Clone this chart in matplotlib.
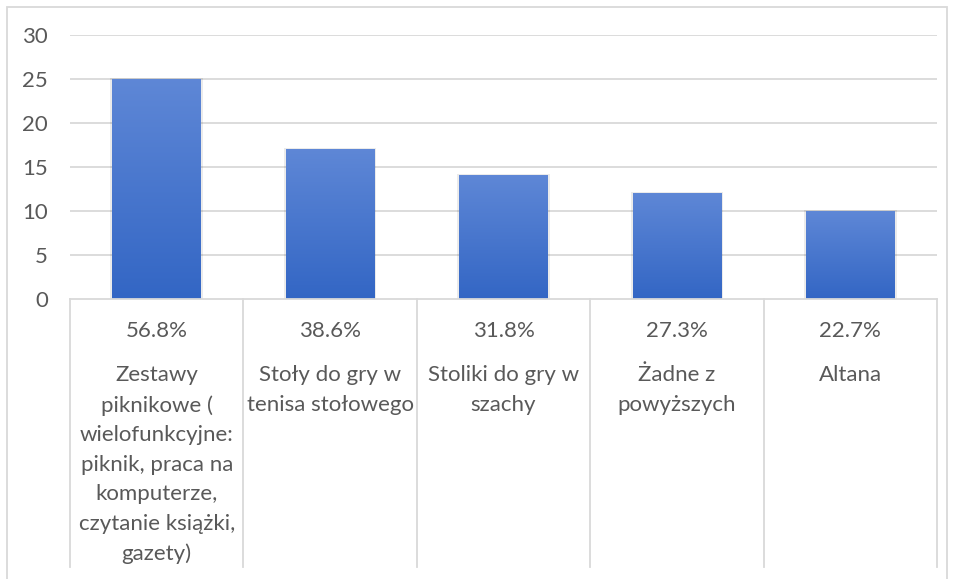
import numpy as np
import matplotlib
matplotlib.use("Agg")
import matplotlib.pyplot as plt
from matplotlib.patches import Rectangle
import matplotlib.transforms as mtransforms

# data
categories = [
    "Zestawy\npiknikowe (\nwielofunkcyjne:\npiknik, praca na\nkomputerze,\nczytanie książki,\ngazety)",
    "Stoły do gry w\ntenisa stołowego",
    "Stoliki do gry w\nszachy",
    "Żadne z\npowyższych",
    "Altana",
]
percent_labels = ["56.8%", "38.6%", "31.8%", "27.3%", "22.7%"]
counts = [25, 17, 14, 12, 10]
y_ticks = [0, 5, 10, 15, 20, 25, 30]

plt.rcParams['font.family'] = ['Lato', 'DejaVu Sans']
TEXT = '#595959'
GRID = '#D9D9D9'
FS = 16

W, H = 954, 579
fig = plt.figure(figsize=(W / 100, H / 100), dpi=100)
ax = fig.add_axes([70 / W, (H - 299) / H, 867 / W, 264 / H])

x = np.arange(len(counts))
bar_w = 0.51
bars = ax.bar(x, counts, width=bar_w, color='#4472C4', zorder=2)

# vertical gradient on each bar, lighter at the top like Excel
grad = np.linspace(0, 1, 256).reshape(-1, 1)
top = np.array([0.37, 0.53, 0.84])
bottom = np.array([0.20, 0.40, 0.77])
rgb = bottom + (top - bottom) * grad
img = rgb[:, None, :].repeat(2, axis=1)
for b in bars:
    x0, w, h = b.get_x(), b.get_width(), b.get_height()
    # soft shadow
    ax.add_patch(Rectangle((x0 - 0.012, 0), w + 0.024, h + 0.15, color='#000000',
                           alpha=0.08, zorder=1.5, linewidth=0))
    ax.imshow(img, extent=(x0, x0 + w, 0, h), origin='lower', aspect='auto',
              zorder=2.5, interpolation='bilinear')

ax.set_xlim(-0.5, len(counts) - 0.5)
ax.set_ylim(0, 30)
ax.set_yticks(y_ticks)
ax.set_yticklabels([str(t) for t in y_ticks], fontsize=FS, color=TEXT)
ax.tick_params(axis='y', length=0, pad=16)
ax.set_xticks([])
for s in ax.spines.values():
    s.set_visible(False)
for t in y_ticks[1:]:
    ax.axhline(t, color=GRID, linewidth=1.3, zorder=0)

# table-style category axis below the plot
trans = mtransforms.blended_transform_factory(ax.transData, ax.transAxes)
ax.plot([-0.5, len(counts) - 0.5], [0, 0], color=GRID, linewidth=1.3,
        transform=trans, clip_on=False, zorder=3)
bottom_frac = (299 - 567) / 264
for b in np.arange(len(counts) + 1) - 0.5:
    ax.plot([b, b], [0, bottom_frac], color=GRID, linewidth=1.3,
            transform=trans, clip_on=False)

for i in range(len(counts)):
    ax.text(i, (299 - 331) / 264, percent_labels[i], transform=trans,
            ha='center', va='center', fontsize=FS, color=TEXT)
    ax.text(i, (299 - 365) / 264, categories[i], transform=trans,
            ha='center', va='top', fontsize=FS, color=TEXT, linespacing=1.6)

# outer chart border
fig.add_artist(Rectangle((7 / W, -0.05), 940 / W, 1.05 - 7 / H,
                         transform=fig.transFigure, fill=False,
                         edgecolor=GRID, linewidth=1.3))

fig.savefig('out.png', dpi=100)
